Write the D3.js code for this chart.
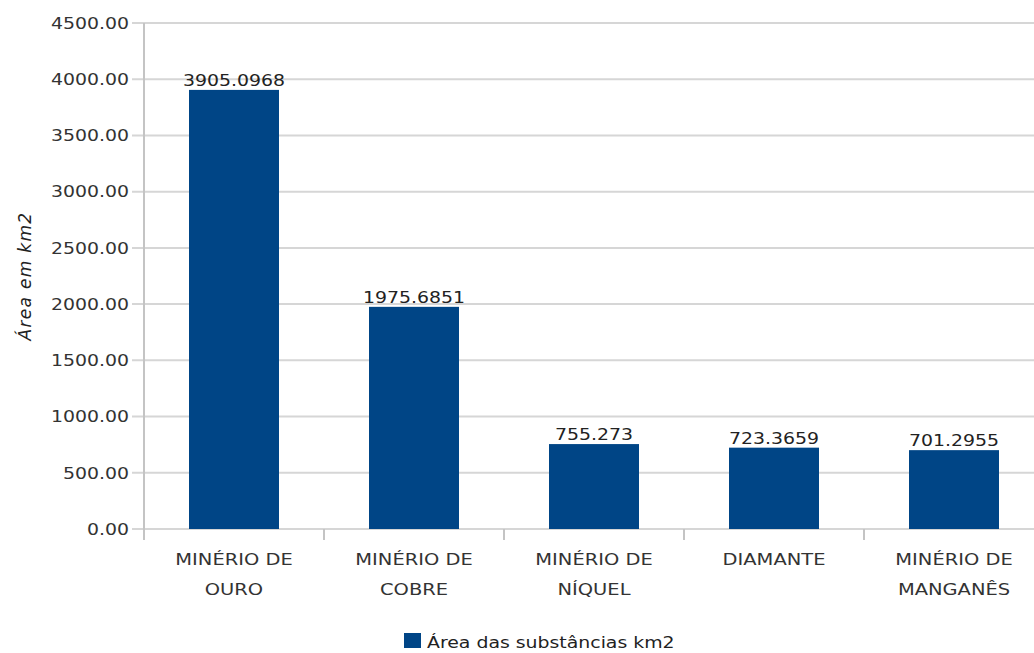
<!DOCTYPE html>
<html>
<head>
<meta charset="utf-8">
<script src="https://cdn.jsdelivr.net/npm/d3@7"></script>
<style>
  html, body { margin: 0; padding: 0; background: #fff; }
  svg { display: block; }
  text { font-family: "DejaVu Sans", sans-serif; fill: #333; }
</style>
</head>
<body>
<svg id="chart" width="1034" height="653"></svg>
<script>
// Mining areas by substance (km2)
const categories = [
  ["MINÉRIO DE", "OURO"],
  ["MINÉRIO DE", "COBRE"],
  ["MINÉRIO DE", "NÍQUEL"],
  ["DIAMANTE"],
  ["MINÉRIO DE", "MANGANÊS"]
];
const values = [3905.0968, 1975.6851, 755.273, 723.3659, 701.2955];
const valueLabels = ["3905.0968", "1975.6851", "755.273", "723.3659", "701.2955"];
const yTicks = [0, 500, 1000, 1500, 2000, 2500, 3000, 3500, 4000, 4500];
const seriesName = "Área das substâncias km2";
const yTitle = "Área em km2";

const svg = d3.select("#chart");
const plot = { left: 144, top: 23, bottom: 529, right: 1044 };
const barColor = "#004586";
const gridColor = "#d6d6d6";
const axisColor = "#c4c4c4";
const stretch = 1.18;   // horizontal widening of the label glyphs

// place a text element at (px, py) with horizontally widened glyphs
function placeText(sel, px, py) {
  sel.attr("x", 0).attr("y", 0)
     .attr("transform", function (d, i) {
       const X = typeof px === "function" ? px(d, i) : px;
       const Y = typeof py === "function" ? py(d, i) : py;
       return `translate(${X},${Y}) scale(${stretch},1)`;
     });
  return sel;
}

const x = d3.scaleBand()
  .domain(d3.range(categories.length))
  .range([plot.left, plot.right])
  .paddingInner(0.5).paddingOuter(0.25);

const y = d3.scaleLinear().domain([0, 4500]).range([plot.bottom, plot.top]);

// horizontal gridlines (with short tick stubs left of the axis)
svg.append("g").selectAll("line").data(yTicks).join("line")
  .attr("x1", plot.left - 12).attr("x2", 1034)
  .attr("y1", d => y(d)).attr("y2", d => y(d))
  .attr("stroke", gridColor).attr("stroke-width", 2);

// y axis line
svg.append("line")
  .attr("x1", plot.left).attr("x2", plot.left)
  .attr("y1", plot.top).attr("y2", plot.bottom + 11)
  .attr("stroke", axisColor).attr("stroke-width", 2);

// category tick marks between bands
const step = x.step();
svg.append("g").selectAll("line").data(d3.range(1, categories.length)).join("line")
  .attr("x1", i => plot.left + i * step).attr("x2", i => plot.left + i * step)
  .attr("y1", plot.bottom).attr("y2", plot.bottom + 11)
  .attr("stroke", axisColor).attr("stroke-width", 2);

// y tick labels
placeText(
  svg.append("g").selectAll("text").data(yTicks).join("text")
    .attr("dy", "0.36em")
    .attr("text-anchor", "end")
    .style("font-size", "16px")
    .text(d => d.toFixed(2)),
  129, d => y(d));

// bars
svg.append("g").selectAll("rect").data(values).join("rect")
  .attr("x", (d, i) => x(i))
  .attr("width", x.bandwidth())
  .attr("y", d => y(d))
  .attr("height", d => y(0) - y(d))
  .attr("fill", barColor);

// value labels above bars
placeText(
  svg.append("g").selectAll("text").data(values).join("text")
    .attr("text-anchor", "middle")
    .style("font-size", "16px")
    .style("fill", "#222")
    .text((d, i) => valueLabels[i]),
  (d, i) => x(i) + x.bandwidth() / 2, d => y(d) - 4);

// category labels (two lines)
const cat = placeText(
  svg.append("g").selectAll("text").data(categories).join("text")
    .attr("text-anchor", "middle")
    .style("font-size", "16.5px"),
  (d, i) => x(i) + x.bandwidth() / 2, 565);
cat.selectAll("tspan").data(d => d).join("tspan")
  .attr("x", 0)
  .attr("dy", (d, j) => j === 0 ? 0 : 30)
  .text(d => d);

// y axis title
svg.append("text")
  .attr("transform", "translate(31,276) rotate(-90)")
  .attr("text-anchor", "middle")
  .style("font-size", "17px")
  .style("font-style", "italic")
  .style("letter-spacing", "1.3px")
  .style("fill", "#222")
  .text(yTitle);

// legend
svg.append("rect")
  .attr("x", 404).attr("y", 633).attr("width", 17).attr("height", 15)
  .attr("fill", barColor);
placeText(
  svg.append("text")
    .style("font-size", "16px")
    .style("fill", "#222")
    .text(seriesName),
  427, 648);
</script>
</body>
</html>
